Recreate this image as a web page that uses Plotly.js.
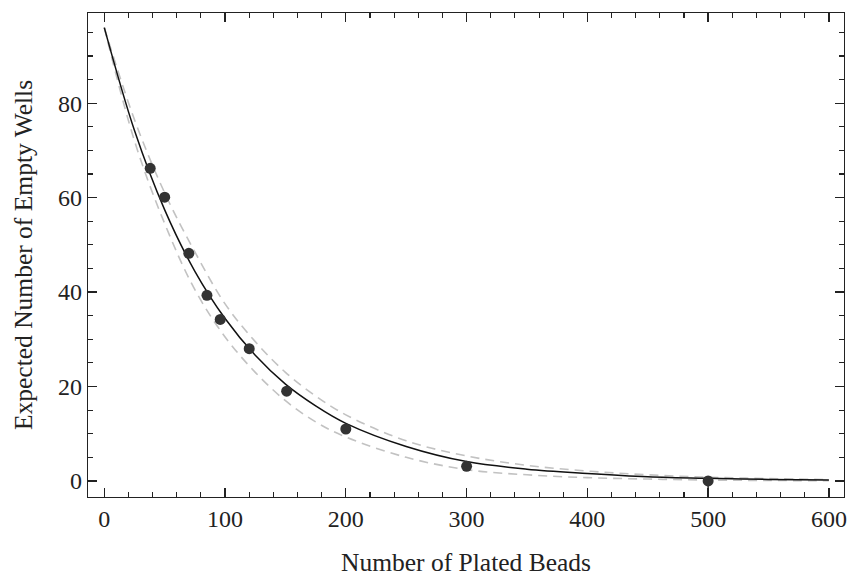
<!DOCTYPE html>
<html>
<head>
<meta charset="utf-8">
<script src="https://cdn.plot.ly/plotly-3.0.1.min.js"></script>
<style>html,body{margin:0;padding:0;background:#fff;}#chart{width:852px;height:577px;}</style>
</head>
<body>
<div id="chart"></div>
<script>
// Observed data points
const beadsObs = [38, 50, 70, 85, 96, 120, 151, 200, 300, 500];
const emptyObs = [66.2, 60.1, 48.2, 39.3, 34.2, 28.0, 19.0, 11.0, 3.1, 0.0];
const errMinus = [0, 0, 0, 0, 0, 0, 0, 0, 0, 3.0];
const errPlus = [0, 0, 0, 0, 0, 0, 0, 0, 0, 0];

// Fitted curve and band values
const curveX = [0, 25, 50, 75, 100, 125, 150, 175, 200, 250, 300, 350, 400, 450, 500, 550, 600];
const curveY = [96, 74.2, 57.4, 44.4, 34.4, 26.6, 20.5, 15.9, 12.2, 7.3, 4.1, 2.5, 1.6, 0.9, 0.55, 0.33, 0.2];
const upperY = [96, 76.5, 61, 48.5, 37.5, 29.5, 23, 18, 14, 8.5, 5.3, 3.3, 2.1, 1.3, 0.8, 0.5, 0.3];
const lowerY = [96, 72, 54.5, 40.5, 30.5, 23, 17, 12.5, 9.3, 5.0, 2.4, 1.3, 0.7, 0.4, 0.2, 0.1, 0.05];

const xTicks = [0, 100, 200, 300, 400, 500, 600];
const yTicks = [0, 20, 40, 60, 80];

const tickFont = {family: 'Liberation Serif, Times New Roman, serif', size: 24, color: '#222'};
const titleFont = {family: 'Liberation Serif, Times New Roman, serif', size: 25.5, color: '#222'};

const traces = [
  {x: curveX, y: upperY, mode: 'lines', line: {color: '#c2c2c2', width: 1.6, dash: '9px,6px', shape: 'spline'}, hoverinfo: 'skip'},
  {x: curveX, y: lowerY, mode: 'lines', line: {color: '#c2c2c2', width: 1.6, dash: '9px,6px', shape: 'spline'}, hoverinfo: 'skip'},
  {x: curveX, y: curveY, mode: 'lines', line: {color: '#111', width: 1.5, shape: 'spline'}},
  {x: beadsObs, y: emptyObs, mode: 'markers', cliponaxis: false, marker: {color: '#333', size: 11},
   error_y: {type: 'data', symmetric: false, array: errPlus, arrayminus: errMinus, color: '#333', thickness: 1.6, width: 0}}
];

const axisCommon = {
  showgrid: false, zeroline: false, showline: true, linecolor: '#222', linewidth: 1.3,
  mirror: 'allticks', ticks: 'inside', ticklen: 9, tickwidth: 1.3, tickcolor: '#222',
  tickfont: tickFont
};

const layout = {
  width: 852, height: 577,
  margin: {l: 88, r: 8, t: 13, b: 80},
  paper_bgcolor: '#fff', plot_bgcolor: '#fff',
  showlegend: false,
  font: tickFont,
  xaxis: Object.assign({}, axisCommon, {
    range: [-13.5, 612.5], tickvals: xTicks, ticktext: xTicks.map(String),
    minor: {dtick: 20, tick0: 0, ticks: 'inside', ticklen: 5, tickwidth: 1.1, tickcolor: '#222'},
    title: {text: 'Number of Plated Beads', font: titleFont, standoff: 26}
  }),
  yaxis: Object.assign({}, axisCommon, {
    range: [-3.4, 99.1], tickvals: yTicks, ticktext: yTicks.map(String),
    minor: {dtick: 5, tick0: 0, ticks: 'inside', ticklen: 5, tickwidth: 1.1, tickcolor: '#222'},
    title: {text: 'Expected Number of Empty Wells', font: titleFont, standoff: 18}
  })
};

Plotly.newPlot('chart', traces, layout, {displayModeBar: false, staticPlot: true});
</script>
</body>
</html>
